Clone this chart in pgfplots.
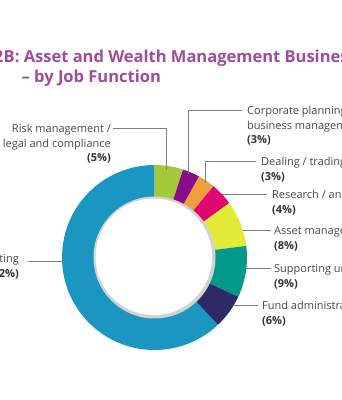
\documentclass[border=0pt]{standalone}
\usepackage{pgfplots}
\pgfplotsset{compat=1.18}
\usepackage{pgfplotstable}
\usepackage{fontspec}
\setmainfont{Open Sans}
\definecolor{cBlue}{RGB}{26,150,193}
\definecolor{cGreen}{RGB}{163,201,58}
\definecolor{cPurple}{RGB}{138,12,138}
\definecolor{cOrange}{RGB}{238,160,62}
\definecolor{cMagenta}{RGB}{224,6,111}
\definecolor{cYellow}{RGB}{226,235,56}
\definecolor{cTeal}{RGB}{0,153,138}
\definecolor{cNavy}{RGB}{45,42,103}
\definecolor{cTitle}{RGB}{160,75,160}
\definecolor{cText}{RGB}{72,72,72}
\definecolor{cLine}{RGB}{128,128,128}
\pgfplotstableread{
share color
5 cGreen
3 cPurple
3 cOrange
4 cMagenta
8 cYellow
9 cTeal
6 cNavy
62 cBlue
}\jobdata
\newcommand{\lab}{\fontsize{11}{13}\selectfont\color{cText}}
\newcommand{\pct}{\fontsize{11}{13}\selectfont\bfseries\color{black!80}}
\begin{document}
\begin{tikzpicture}[x=1pt,y=1pt]
\begin{scope}
\clip (0,0) rectangle (341,400);
\begin{axis}[hide axis, scale only axis, width=185pt, height=185pt,
  xmin=-1, xmax=1, ymin=-1, ymax=1, clip=false,
  at={(154.5pt,142.5pt)}, anchor=center]
\addplot[draw=none] coordinates {(0,0)};
\pgfplotstablegetrowsof{\jobdata}
\pgfmathtruncatemacro\nrows{\pgfplotsretval-1}
\gdef\cum{0}
\foreach \i in {0,...,\nrows}{
  \pgfplotstablegetelem{\i}{share}\of\jobdata \let\val\pgfplotsretval
  \pgfplotstablegetelem{\i}{color}\of\jobdata \let\col\pgfplotsretval
  \pgfmathsetmacro\sa{90-3.6*\cum}
  \pgfmathsetmacro\ea{90-3.6*(\cum+\val)}
  \pgfmathsetmacro\nc{\cum+\val}
  \xdef\cum{\nc}
  \edef\temp{\noexpand\fill[\col] (axis cs:0,0) -- ++(\sa:92.5pt) arc[start angle=\sa, end angle=\ea, radius=92.5pt] -- cycle;}
  \temp
}
\fill[gray!35] (axis cs:0,0) circle[radius=61pt];
\fill[white] (axis cs:0,0) ++(-0.7pt,0.7pt) circle[radius=58.3pt];
\end{axis}
% leader lines
\begin{scope}[draw=cLine, line width=0.8pt]
\draw (113,272) -- (166,272) -- (166,230);
\draw (242,290) -- (188,290) -- (188,226);
\draw (256,239) -- (205,239) -- (205,217);
\draw (222,206) -- (267,206);
\draw (243,170) -- (271,170);
\draw (246,132) -- (271,132);
\draw (234,95) -- (258,95);
\draw (28,139) -- (62,139);
\end{scope}
% title
\node[anchor=base east, inner sep=0pt, font=\fontsize{16.5}{20}\selectfont\bfseries, text=cTitle] at (3.5,337) {Chart 2};
\node[anchor=base west, inner sep=0pt, font=\fontsize{16.5}{20}\selectfont\bfseries, text=cTitle] at (3.5,337) {B: Asset and Wealth Management Business};
\node[anchor=base west, inner sep=0pt, font=\fontsize{16.5}{20}\selectfont\bfseries, text=cTitle] at (21.5,317) {\textendash{} by Job Function};
% labels
\node[anchor=base east, inner sep=0pt, font=\lab] at (111,267) {Risk management /};
\node[anchor=base east, inner sep=0pt, font=\lab] at (111,252.5) {legal and compliance};
\node[anchor=base east, inner sep=0pt, font=\pct] at (111,238) {(5\%)};
\node[anchor=base west, inner sep=0pt, font=\lab] at (247,285) {Corporate planning and};
\node[anchor=base west, inner sep=0pt, font=\lab] at (247,270.5) {business management};
\node[anchor=base west, inner sep=0pt, font=\pct] at (247,256) {(3\%)};
\node[anchor=base west, inner sep=0pt, font=\lab] at (261,234) {Dealing / trading};
\node[anchor=base west, inner sep=0pt, font=\pct] at (261,219) {(3\%)};
\node[anchor=base west, inner sep=0pt, font=\lab] at (272,201) {Research / analysis};
\node[anchor=base west, inner sep=0pt, font=\pct] at (272,186) {(4\%)};
\node[anchor=base west, inner sep=0pt, font=\lab] at (274,165) {Asset management};
\node[anchor=base west, inner sep=0pt, font=\pct] at (274,150) {(8\%)};
\node[anchor=base west, inner sep=0pt, font=\lab] at (274,127) {Supporting units};
\node[anchor=base west, inner sep=0pt, font=\pct] at (274,112) {(9\%)};
\node[anchor=base west, inner sep=0pt, font=\lab] at (262,90) {Fund administration};
\node[anchor=base west, inner sep=0pt, font=\pct] at (262,75) {(6\%)};
\node[anchor=base east, inner sep=0pt, font=\lab] at (19,137) {Sales and marketing};
\node[anchor=base east, inner sep=0pt, font=\pct] at (19,122.5) {(62\%)};
\end{scope}
\pgfresetboundingbox
\path (0,0) rectangle (341,400);
\end{tikzpicture}
\end{document}
